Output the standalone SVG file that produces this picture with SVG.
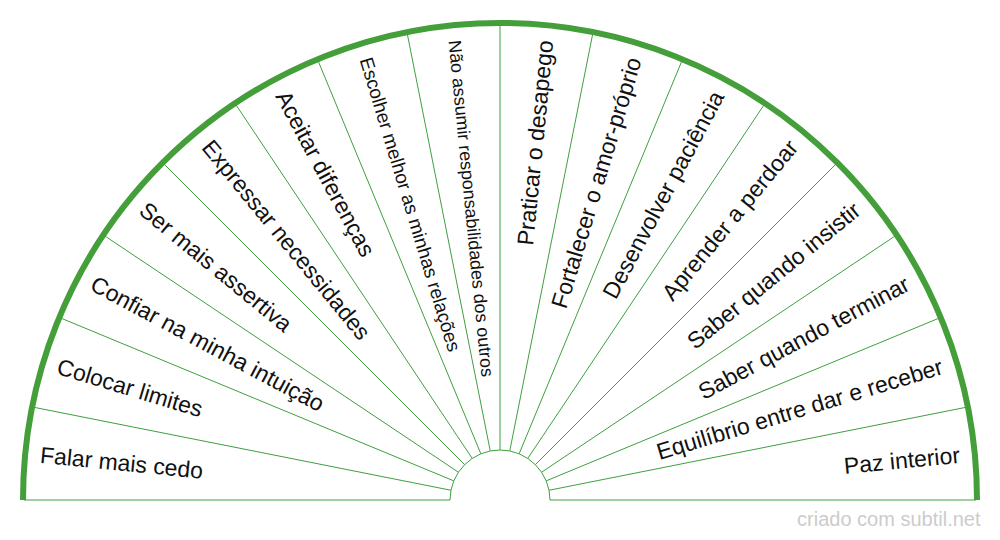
<svg xmlns="http://www.w3.org/2000/svg" width="1000" height="540" viewBox="0 0 1000 540">
<style>
.lbl{font-family:"Liberation Sans",Arial,sans-serif;font-size:23px;fill:#111}
.l{text-anchor:start}
.r{text-anchor:end}
.ray{stroke:#3f9f3f;stroke-width:1;fill:none}
.base{stroke:#3f9f3f;stroke-width:1;fill:none}
.rim{stroke:#449e3a;stroke-width:6;fill:none}
.wm{font-family:"Liberation Sans",Arial,sans-serif;font-size:20px;fill:#cccccc;text-anchor:end}
</style>
<rect width="1000" height="540" fill="#fff"/>
<g id="connectors">
<path class="base" d="M24 500H450M550 500H976"/>
<path class="base" d="M450 500A50 50 0 0 1 550 500"/>
<path class="ray" d="M450.96 490.25L33.14 407.14M453.81 480.87L60.23 317.84M458.43 472.22L104.22 235.55M464.64 464.64L163.42 163.42M472.22 458.43L235.55 104.22M480.87 453.81L317.84 60.23M490.25 450.96L407.14 33.14M500 450L500 24M509.75 450.96L592.86 33.14M519.13 453.81L682.16 60.23M527.78 458.43L764.45 104.22M535.36 464.64L836.58 163.42M541.57 472.22L895.78 235.55M546.19 480.87L939.77 317.84M549.04 490.25L966.86 407.14"/>
<path class="rim" d="M23 500A477 477 0 0 1 977 500"/>
</g>
<g id="s0"><text class="lbl l" x="40.23" y="454.71" dy="0.35em" transform="rotate(5.625 40.23 454.71)">Falar mais cedo</text></g>
<g id="s1"><text class="lbl l" x="57.89" y="365.89" dy="0.35em" transform="rotate(16.875 57.89 365.89)">Colocar limites</text></g>
<g id="s2"><text class="lbl l" x="92.55" y="282.21" dy="0.35em" transform="rotate(28.125 92.55 282.21)">Confiar na minha intuição</text></g>
<g id="s3"><text class="lbl l" x="142.87" y="206.91" dy="0.35em" transform="rotate(39.375 142.87 206.91)">Ser mais assertiva</text></g>
<g id="s4"><text class="lbl l" x="206.91" y="142.87" dy="0.35em" transform="rotate(50.625 206.91 142.87)">Expressar necessidades</text></g>
<g id="s5"><text class="lbl l" x="282.21" y="92.55" dy="0.35em" transform="rotate(61.875 282.21 92.55)">Aceitar diferenças</text></g>
<g id="s6"><text class="lbl l" x="365.89" y="57.89" dy="0.35em" transform="rotate(73.125 365.89 57.89)" style="font-size:19px">Escolher melhor as minhas relações</text></g>
<g id="s7"><text class="lbl l" x="454.71" y="40.23" dy="0.35em" transform="rotate(84.375 454.71 40.23)" style="font-size:17.9px">Não assumir responsabilidades dos outros</text></g>
<g id="s8"><text class="lbl r" x="545.29" y="40.23" dy="0.35em" transform="rotate(-84.375 545.29 40.23)">Praticar o desapego</text></g>
<g id="s9"><text class="lbl r" x="634.11" y="57.89" dy="0.35em" transform="rotate(-73.125 634.11 57.89)">Fortalecer o amor-próprio</text></g>
<g id="s10"><text class="lbl r" x="717.79" y="92.55" dy="0.35em" transform="rotate(-61.875 717.79 92.55)">Desenvolver paciência</text></g>
<g id="s11"><text class="lbl r" x="793.09" y="142.87" dy="0.35em" transform="rotate(-50.625 793.09 142.87)">Aprender a perdoar</text></g>
<g id="s12"><text class="lbl r" x="857.13" y="206.91" dy="0.35em" transform="rotate(-39.375 857.13 206.91)">Saber quando insistir</text></g>
<g id="s13"><text class="lbl r" x="907.45" y="282.21" dy="0.35em" transform="rotate(-28.125 907.45 282.21)">Saber quando terminar</text></g>
<g id="s14"><text class="lbl r" x="942.11" y="365.89" dy="0.35em" transform="rotate(-16.875 942.11 365.89)">Equilíbrio entre dar e receber</text></g>
<g id="s15"><text class="lbl r" x="959.77" y="454.71" dy="0.35em" transform="rotate(-5.625 959.77 454.71)">Paz interior</text></g>
<g id="watermark"><text class="wm" x="980.5" y="525.5">criado com subtil.net</text></g>
</svg>
